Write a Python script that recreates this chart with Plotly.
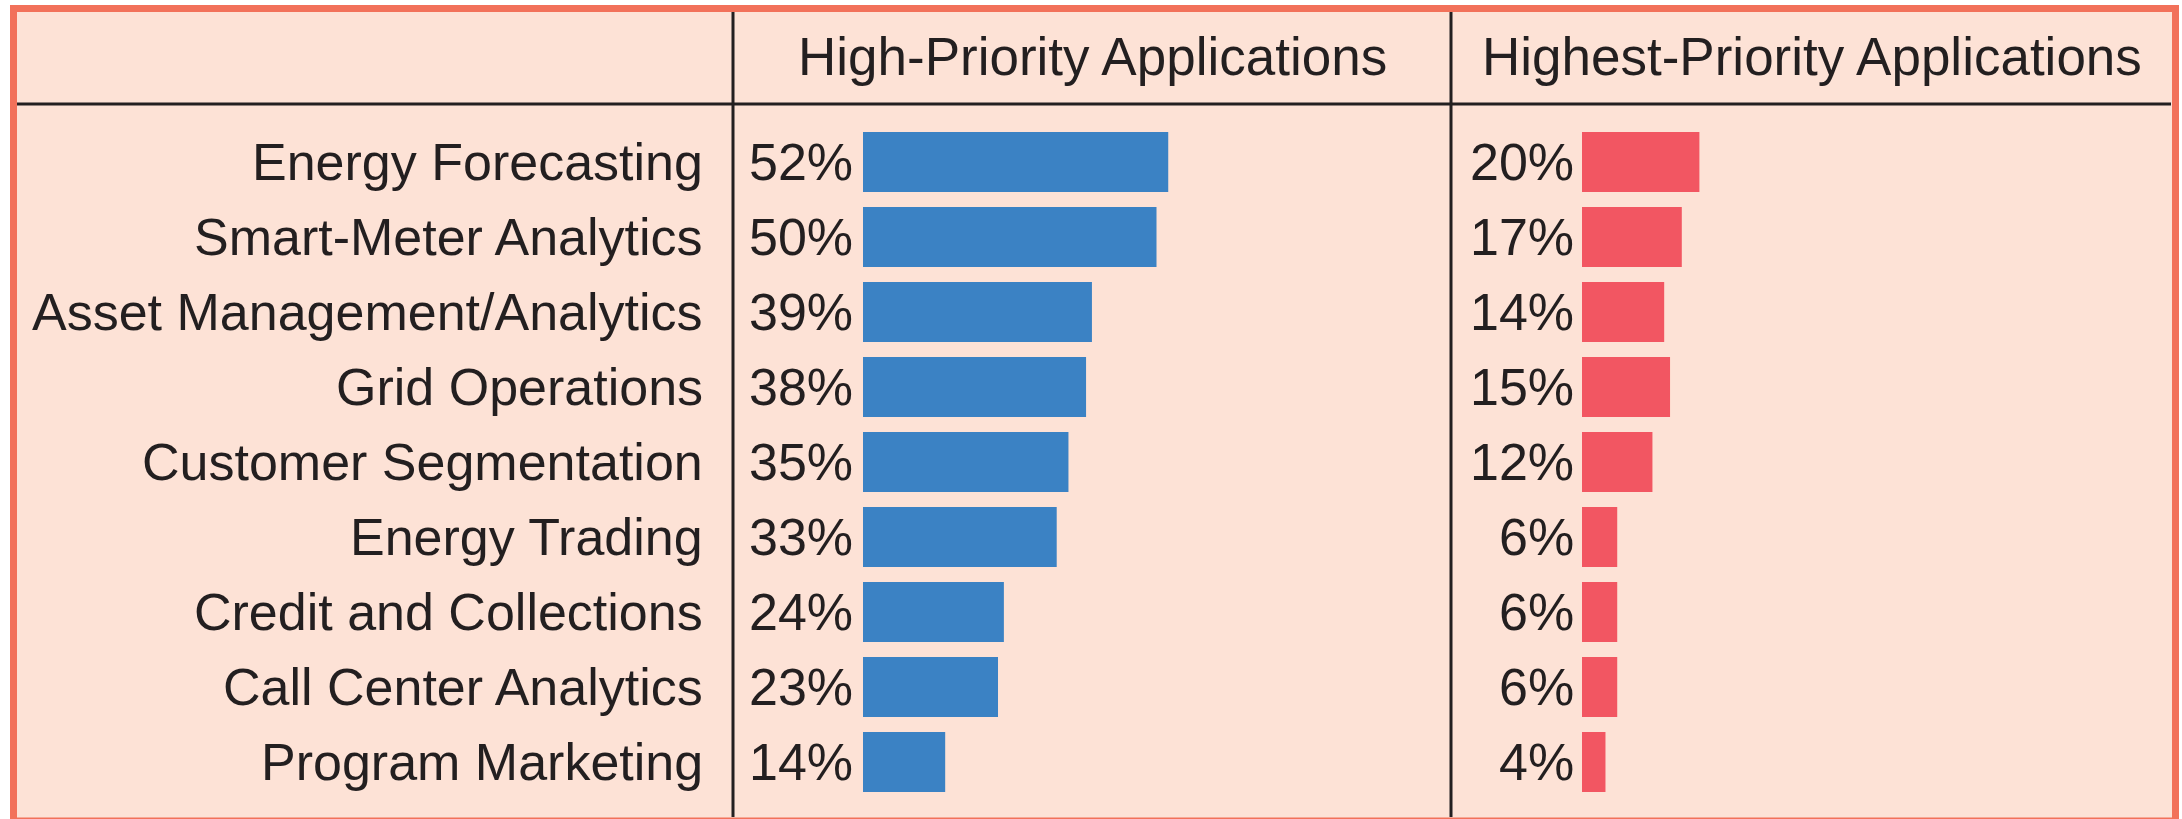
import plotly.graph_objects as go

categories = ["Energy Forecasting", "Smart-Meter Analytics", "Asset Management/Analytics",
              "Grid Operations", "Customer Segmentation", "Energy Trading",
              "Credit and Collections", "Call Center Analytics", "Program Marketing"]
high_priority = [52, 50, 39, 38, 35, 33, 24, 23, 14]
highest_priority = [20, 17, 14, 15, 12, 6, 6, 6, 4]
headers = ["High-Priority Applications", "Highest-Priority Applications"]

W, H = 2182, 819
FONT = "Liberation Sans, Arial, Helvetica, sans-serif"
FS = 52
TXT = "#231f20"
BG = "#fde2d6"
BLUE = "#3b82c4"
RED = "#f25662"
ORANGE = "#f2715a"
PX_PER_PCT = 5.87

def px(x):
    return x / W

def py(y):
    return 1 - y / H

# panel geometry (pixels)
L_X0, L_X1 = 863, 1440
R_X0, R_X1 = 1582, 2165
ROW_TOP, ROW_BOT = 124.5, 799.5

fig = go.Figure()
fig.add_trace(go.Bar(y=categories, x=high_priority, orientation="h",
                     marker=dict(color=BLUE, line=dict(width=0)),
                     xaxis="x", yaxis="y", hoverinfo="skip", showlegend=False))
fig.add_trace(go.Bar(y=categories, x=highest_priority, orientation="h",
                     marker=dict(color=RED, line=dict(width=0)),
                     xaxis="x2", yaxis="y", hoverinfo="skip", showlegend=False))

annotations = []
for cat, v in zip(categories, high_priority):
    annotations.append(dict(x=0, y=cat, xref="x", yref="y", text=f"{v}%",
                            xanchor="right", yanchor="middle", xshift=-8,
                            showarrow=False, font=dict(size=FS, color=TXT, family=FONT)))
for cat, v in zip(categories, highest_priority):
    annotations.append(dict(x=0, y=cat, xref="x2", yref="y", text=f"{v}%",
                            xanchor="right", yanchor="middle", xshift=-6,
                            showarrow=False, font=dict(size=FS, color=TXT, family=FONT)))
for cat in categories:
    annotations.append(dict(x=px(705), y=cat, xref="paper", yref="y", text=cat,
                            xanchor="right", yanchor="middle",
                            showarrow=False, font=dict(size=FS, color=TXT, family=FONT)))
annotations.append(dict(x=px(1092), y=py(57), xref="paper", yref="paper", text=headers[0],
                        xanchor="center", yanchor="middle", showarrow=False,
                        font=dict(size=53, color=TXT, family=FONT)))
annotations.append(dict(x=px(1812), y=py(57), xref="paper", yref="paper", text=headers[1],
                        xanchor="center", yanchor="middle", showarrow=False,
                        font=dict(size=53, color=TXT, family=FONT)))

shapes = [
    dict(type="rect", xref="paper", yref="paper", x0=px(13.5), x1=px(2175.5), y0=py(8.5), y1=py(821),
         fillcolor=BG, line=dict(color=ORANGE, width=7), layer="below"),
    dict(type="line", xref="paper", yref="paper", x0=px(17), x1=px(2171), y0=py(104), y1=py(104),
         line=dict(color="#231f20", width=3)),
    dict(type="line", xref="paper", yref="paper", x0=px(733), x1=px(733), y0=py(12), y1=py(817),
         line=dict(color="#231f20", width=3)),
    dict(type="line", xref="paper", yref="paper", x0=px(1451), x1=px(1451), y0=py(12), y1=py(817),
         line=dict(color="#231f20", width=3)),
]

fig.update_layout(
    width=W, height=H,
    margin=dict(l=0, r=0, t=0, b=0),
    paper_bgcolor="white", plot_bgcolor="rgba(0,0,0,0)",
    bargap=0.2,
    xaxis=dict(domain=[px(L_X0), px(L_X1)], range=[0, (L_X1 - L_X0) / PX_PER_PCT],
               visible=False, fixedrange=True),
    xaxis2=dict(domain=[px(R_X0), px(R_X1)], range=[0, (R_X1 - R_X0) / PX_PER_PCT],
                visible=False, anchor="y", fixedrange=True),
    yaxis=dict(domain=[py(ROW_BOT), py(ROW_TOP)], type="category",
               categoryorder="array", categoryarray=categories,
               range=[len(categories) - 0.5, -0.5], visible=False, fixedrange=True),
    annotations=annotations,
    shapes=shapes,
    font=dict(family=FONT, color=TXT),
)

fig.write_html("out.html", config={"displayModeBar": False},
               post_script="document.body.style.margin='0';document.body.style.overflow='hidden';")
